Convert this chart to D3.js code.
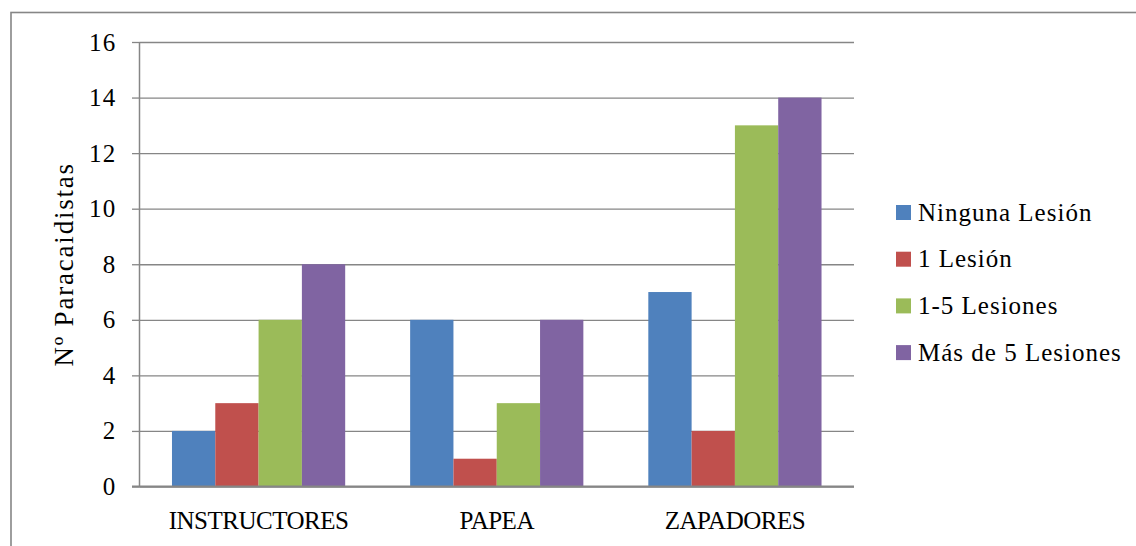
<!DOCTYPE html>
<html>
<head>
<meta charset="utf-8">
<script src="https://cdn.jsdelivr.net/npm/d3@7"></script>
<style>
  html, body { margin: 0; padding: 0; background: #ffffff; }
  svg { display: block; }
  text { font-family: "Liberation Serif", "DejaVu Serif", serif; fill: #000; }
</style>
</head>
<body>
<svg id="chart" width="1136" height="546"></svg>
<script>
// Grupos de paracaidistas y número de lesiones
const categories = ["INSTRUCTORES", "PAPEA", "ZAPADORES"];
const seriesNames = ["Ninguna Lesión", "1 Lesión", "1-5 Lesiones", "Más de 5 Lesiones"];
const ningunaLesion = [2, 6, 7];
const unaLesion = [3, 1, 2];
const unoCincoLesiones = [6, 3, 13];
const masCincoLesiones = [8, 6, 14];
const yTicks = [0, 2, 4, 6, 8, 10, 12, 14, 16];
const seriesColors = ["#4F81BD", "#C0504D", "#9BBB59", "#8064A2"];

const seriesValues = [ningunaLesion, unaLesion, unoCincoLesiones, masCincoLesiones];

const svg = d3.select("#chart");
const plot = { left: 139.5, right: 854, top: 42, bottom: 486.5 };
const gridColor = "#868686";
const fontSize = 25;

// Outer chart frame (continues past the right and bottom edges)
svg.append("rect")
  .attr("x", 11).attr("y", 12.5)
  .attr("width", 1200).attr("height", 600)
  .attr("fill", "none")
  .attr("stroke", gridColor)
  .attr("stroke-width", 1.6);

const x = d3.scaleBand().domain(categories).range([plot.left, plot.right]).paddingInner(0).paddingOuter(0);
const xs = d3.scaleBand().domain(d3.range(seriesNames.length)).range([0, x.bandwidth()])
  .paddingInner(0).paddingOuter(0.75);
const y = d3.scaleLinear().domain([0, 16]).range([plot.bottom, plot.top]);

// Horizontal gridlines with tick marks
const yAxis = d3.axisLeft(y).tickValues(yTicks).tickSize(-(plot.right - plot.left)).tickFormat(d3.format("d")).tickPadding(23);
const gy = svg.append("g").attr("transform", `translate(${plot.left},0)`).call(yAxis);
gy.select(".domain").remove();
gy.selectAll(".tick line").attr("stroke", gridColor).attr("stroke-width", 1.3);
gy.selectAll(".tick text")
  .attr("font-size", fontSize)
  .attr("letter-spacing", 1.3)
  .attr("fill", "#000")
  .style("font-family", '"Liberation Serif", serif');
// small outward ticks
gy.selectAll(".tick").append("line")
  .attr("x1", -7.5).attr("x2", 0).attr("y1", 0).attr("y2", 0)
  .attr("stroke", gridColor).attr("stroke-width", 1.3);

// Bars
const groups = svg.append("g").selectAll("g")
  .data(categories)
  .join("g")
  .attr("transform", d => `translate(${x(d)},0)`);

groups.selectAll("rect")
  .data((c, ci) => seriesValues.map((vals, si) => ({ si, v: vals[ci] })))
  .join("rect")
  .attr("x", d => xs(d.si))
  .attr("width", xs.bandwidth())
  .attr("y", d => y(d.v))
  .attr("height", d => y(0) - y(d.v))
  .attr("fill", d => seriesColors[d.si]);

// Vertical axis line and baseline
svg.append("line")
  .attr("x1", plot.left).attr("x2", plot.left)
  .attr("y1", plot.top).attr("y2", plot.bottom)
  .attr("stroke", gridColor).attr("stroke-width", 1.5);
svg.append("line")
  .attr("x1", plot.left - 7.5).attr("x2", plot.right)
  .attr("y1", plot.bottom).attr("y2", plot.bottom)
  .attr("stroke", gridColor).attr("stroke-width", 1.8);

// Category labels
svg.append("g").selectAll("text")
  .data(categories)
  .join("text")
  .attr("x", d => x(d) + x.bandwidth() / 2)
  .attr("y", 529)
  .attr("text-anchor", "middle")
  .attr("font-size", fontSize)
  .attr("letter-spacing", -0.5)
  .text(d => d);

// Y axis title
svg.append("text")
  .attr("transform", `translate(72.5,${(plot.top + plot.bottom) / 2}) rotate(-90)`)
  .attr("text-anchor", "middle")
  .attr("font-size", 27)
  .attr("letter-spacing", 1.8)
  .text("Nº Paracaidistas");

// Legend
const legend = svg.append("g").selectAll("g")
  .data(seriesNames)
  .join("g")
  .attr("transform", (d, i) => `translate(896,${205 + i * 46.7})`);
legend.append("rect")
  .attr("width", 15).attr("height", 15)
  .attr("fill", (d, i) => seriesColors[i]);
legend.append("text")
  .attr("x", 22).attr("y", 15.5)
  .attr("font-size", fontSize)
  .attr("letter-spacing", 1)
  .text(d => d);
</script>
</body>
</html>
